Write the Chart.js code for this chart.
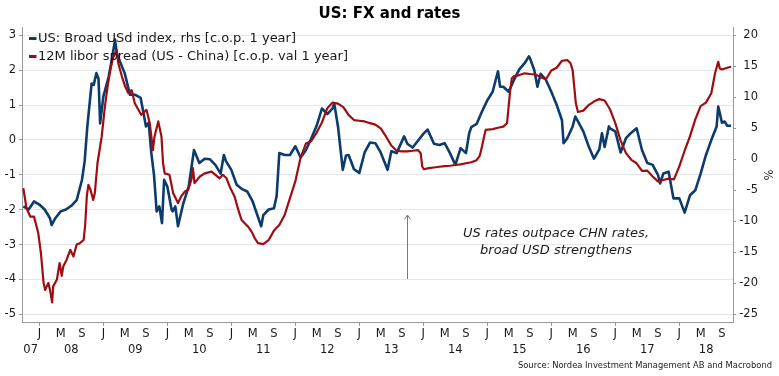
<!DOCTYPE html>
<html>
<head>
<meta charset="utf-8">
<script src="https://cdn.jsdelivr.net/npm/chart.js@4.4.0/dist/chart.umd.min.js"></script>
<style>
html,body{margin:0;padding:0;background:#ffffff;}
#wrap{width:779px;height:376px;position:relative;}
</style>
</head>
<body>
<div id="wrap"><canvas id="c" width="779" height="376"></canvas></div>
<script>
// ---------- texts ----------
const titleText = 'US: FX and rates';
const sourceText = 'Source: Nordea Investment Management AB and Macrobond';
const noteLines = ['US rates outpace CHN rates,', 'broad USD strengthens'];
const rightAxisTitle = '%';
const blueLabel = 'US: Broad USd index, rhs [c.o.p. 1 year]';
const redLabel = '12M libor spread (US - China) [c.o.p. val 1 year]';

// ---------- tick labels ----------
const monthLetters = ['J', 'M', 'S'];          // Jan, May, Sep
const monthOffsets = [0, 4, 8];
const yearLabels = ['07','08','09','10','11','12','13','14','15','16','17','18'];
const leftTicks = [-5, -4, -3, -2, -1, 0, 1, 2, 3];
const rightTicks = [-25, -20, -15, -10, -5, 0, 5, 10, 15, 20];

// ---------- data (x = months since Jan 2007) ----------
// Broad USD index, % y/y (right axis)
const blueMonths = [9,10,11,12,13,14,14.3,15,16,17,18,19,20,20.5,21,21.8,22.2,22.7,23.1,23.4,24,25,25.6,26.2,26.5,27,28,29,30,31,32,32.5,33,33.5,34,34.5,35,35.4,36,36.8,37,37.5,38,39,40,41,42,43,44,45,46,46.6,47,48,49,50,51,52,53,53.6,54,55,56,56.5,57,58,59,60,61,62,63,64,65,66,67,67.3,68,68.9,69.5,70,71,72,73,74,75,76,77.3,78,79,80.4,81,82,83,84,84.8,86,87,88,89,90,91,92,92.6,93,94,95,96,97,98,98.4,99,100,101,102,103,103.8,104,104.8,105.4,106,107,108,109,110,110.3,111,112,112.5,113,114,115,116,117,117.5,118,118.8,119,120,121,122,123,124,125,126,127,128,128.4,129,130,130.9,132,133,134,135,136,137,138,139,139.3,139.6,140,140.5,141,141.7];
const blueValues = [-7.6,-8.1,-6.8,-7.3,-8.1,-9.5,-10.6,-9.5,-8.4,-8.1,-7.5,-6.6,-3.3,-0.3,5.3,12.2,12.0,13.9,13.0,5.8,10.1,13.3,16.1,19.3,17.2,16.0,13.9,10.4,10.4,9.9,5.3,5.9,1.0,-2.5,-8.4,-7.6,-10.3,-3.3,-4.4,-8.1,-8.4,-7.6,-10.8,-7.1,-4.4,1.5,-0.6,0.1,0.0,-0.9,-2.3,0.7,-0.3,-1.7,-4.1,-4.8,-5.2,-6.8,-9.3,-10.8,-9.0,-8.1,-7.9,-5.9,1.0,0.7,0.7,2.1,0.3,1.5,3.4,5.4,8.2,7.3,8.2,9.0,5.3,-1.7,0.6,0.7,-1.6,-2.2,1.1,2.7,2.6,1.1,-1.7,1.3,1.0,3.7,2.5,1.9,3.0,4.1,4.8,2.5,2.3,2.6,1.0,-0.9,1.8,1.0,4.2,5.2,5.7,7.7,9.5,10.9,14.2,11.7,11.7,10.9,12.8,14.5,15.5,16.6,16.3,14.4,11.7,13.8,12.8,10.9,8.8,6.3,2.6,3.4,5.3,6.9,6.1,4.5,2.1,0.1,1.6,4.2,2.0,5.3,5.0,4.5,1.1,3.4,4.3,5.0,1.5,-0.6,-0.9,-2.5,-3.9,-2.3,-2.0,-6.3,-6.3,-8.6,-5.8,-5.0,-2.3,0.7,3.1,5.3,8.5,7.4,5.9,6.1,5.4,5.4];

// 12M libor spread US - China, change over 1 year (left axis)
const redMonths = [9,9.6,10.3,11,11.8,12.3,12.8,13.1,13.7,14,14.4,14.6,15.3,15.8,16.2,16.5,17.1,17.8,18.4,19,19.6,20.3,20.6,20.9,21.2,21.6,22.1,22.4,22.9,23.3,23.7,24.3,24.8,25.3,25.8,26.2,26.5,26.8,27.5,28.1,28.7,29.3,29.9,30.6,31.1,32.1,32.7,33,33.3,33.6,34.3,34.9,35.2,35.5,36.4,37.1,38,38.6,39.3,39.9,40.5,40.8,41.1,42.1,43,44.3,45.8,46.4,47.1,47.7,48.6,49.3,49.9,50.5,51.1,51.8,52.4,53,54,55,56,57,58,59,60,61,62,63,64,65,66,67,68,69,70,71,72,73,74,75,76,77,78,79,80,81,82,83,83.5,83.8,84.1,85,86,87,88,89,90,91,92,93,94,94.6,95,95.4,95.7,97,98,99,99.7,100,100.3,100.6,101,102,103,104,105,106,107,108,109,110,111,111.6,112,112.3,112.6,113,114,115,116,117,118,119,120,121,122,123,124,125,126,127,128,129,130,131,132,133,134,135,136,137,138,138.7,139.3,139.6,140,141,141.7];
const redValues = [-1.38,-1.96,-2.2,-2.2,-2.67,-3.25,-4.1,-4.3,-4.1,-4.3,-4.66,-4.2,-4.0,-3.53,-3.9,-3.62,-3.44,-3.15,-3.34,-3.0,-2.96,-2.87,-2.44,-1.62,-1.29,-1.43,-1.72,-1.53,-0.67,-0.29,0.1,0.96,1.53,2.0,2.34,2.48,2.58,2.2,1.81,1.53,1.34,1.43,1.05,0.86,0.72,0.86,0.48,0.1,-0.29,0.1,0.53,0.1,-0.67,-0.96,-1.0,-1.53,-1.81,-1.62,-1.48,-1.43,-1.15,-0.81,-1.24,-1.05,-0.96,-0.91,-1.1,-1.0,-1.1,-1.34,-1.62,-2.0,-2.29,-2.39,-2.48,-2.63,-2.82,-2.96,-2.99,-2.87,-2.6,-2.44,-2.15,-1.67,-1.19,-0.5,-0.1,-0.03,0.21,0.5,0.91,1.07,1.04,0.94,0.71,0.57,0.55,0.53,0.48,0.44,0.33,0.1,-0.16,-0.31,-0.33,-0.33,-0.31,-0.29,-0.38,-0.76,-0.84,-0.81,-0.79,-0.77,-0.75,-0.74,-0.72,-0.7,-0.67,-0.64,-0.58,-0.45,-0.19,0.1,0.29,0.31,0.35,0.38,0.48,0.96,1.43,1.77,1.83,1.86,1.91,1.89,1.88,1.8,1.74,1.99,2.07,2.27,2.29,2.2,2.0,1.53,1.05,0.8,0.84,1.0,1.1,1.17,1.13,0.88,0.48,-0.02,-0.38,-0.57,-0.67,-0.89,-0.88,-1.05,-1.19,-1.15,-1.11,-1.13,-0.76,-0.31,0.1,0.59,0.97,1.07,1.34,1.91,2.24,2.05,2.02,2.07,2.1];

// ---------- styling ----------
const FONT = "'DejaVu Sans', Verdana, sans-serif";
const BLUE = '#0c3b6d';
const RED = '#9f0d10';
const TEXT = '#1a1a1a';
const AXIS = '#9a9a9a';
const GRID = '#e3e7ec';
const X_MIN = 8.75, X_MAX = 142.07;
const L_MIN = -5.221, L_MAX = 3.238;
const R_MIN = -26.243, R_MAX = 21.339;

const toPts = (xs, ys) => xs.map((x, i) => ({x: x, y: ys[i]}));

function buildXTicks() {
  const t = [];
  yearLabels.forEach((yl, yi) => {
    const base = yi * 12;
    monthOffsets.forEach((mo, k) => {
      const v = base + mo;
      if (v >= X_MIN && v <= X_MAX) t.push({value: v, label: monthLetters[k]});
    });
    const lo = Math.max(base, X_MIN), hi = Math.min(base + 12, X_MAX);
    t.push({value: (lo + hi) / 2, label: ['', yl]});
  });
  t.sort((a, b) => a.value - b.value);
  return t;
}
const xTicks = buildXTicks();

const decorPlugin = {
  id: 'decor',
  afterDraw(chart) {
    const ctx = chart.ctx;
    ctx.save();
    // title
    ctx.fillStyle = '#000';
    ctx.font = 'bold 15px ' + FONT;
    ctx.textAlign = 'center';
    ctx.textBaseline = 'middle';
    ctx.fillText(titleText, 389.5, 14);

    // legend
    chart.data.datasets.forEach((ds, i) => {
      const y = 38.5 + i * 18;
      ctx.strokeStyle = ds.borderColor;
      ctx.lineWidth = 3;
      ctx.beginPath();
      ctx.moveTo(29, y);
      ctx.lineTo(36.5, y);
      ctx.stroke();
      ctx.fillStyle = TEXT;
      ctx.font = '13px ' + FONT;
      ctx.textAlign = 'left';
      ctx.textBaseline = 'middle';
      ctx.fillText(ds.label, 38, y);
    });

    // arrow
    ctx.strokeStyle = '#7a7a7a';
    ctx.lineWidth = 1;
    ctx.beginPath();
    ctx.moveTo(407.5, 279);
    ctx.lineTo(407.5, 215);
    ctx.moveTo(404.5, 219.5);
    ctx.lineTo(407.5, 215);
    ctx.lineTo(410.5, 219.5);
    ctx.stroke();

    // note
    ctx.fillStyle = TEXT;
    ctx.font = 'italic 13px ' + FONT;
    ctx.textAlign = 'center';
    ctx.textBaseline = 'middle';
    ctx.fillText(noteLines[0], 556, 234);
    ctx.fillText(noteLines[1], 556, 250.5);

    // source
    ctx.font = '8.4px ' + FONT;
    ctx.textAlign = 'right';
    ctx.fillText(sourceText, 772, 366);

    // right axis unit
    ctx.translate(767, 175);
    ctx.rotate(Math.PI / 2);
    ctx.font = '11.5px ' + FONT;
    ctx.textAlign = 'center';
    ctx.fillText(rightAxisTitle, 0, 0);
    ctx.restore();
  }
};

Chart.defaults.font.family = FONT;
Chart.defaults.color = TEXT;

new Chart(document.getElementById('c'), {
  type: 'line',
  data: {
    datasets: [
      {label: blueLabel, data: toPts(blueMonths, blueValues), yAxisID: 'yR', xAxisID: 'x',
       borderColor: BLUE, borderWidth: 2.6, pointRadius: 0, tension: 0, fill: false, order: 1,
       borderJoinStyle: 'round'},
      {label: redLabel, data: toPts(redMonths, redValues), yAxisID: 'yL', xAxisID: 'x',
       borderColor: RED, borderWidth: 2.2, pointRadius: 0, tension: 0, fill: false, order: 0,
       borderJoinStyle: 'round'}
    ]
  },
  options: {
    responsive: false,
    animation: false,
    devicePixelRatio: 1,
    layout: {padding: {top: 27, left: 0, right: 21, bottom: 0}},
    plugins: {legend: {display: false}, title: {display: false}, tooltip: {enabled: false}},
    scales: {
      x: {
        type: 'linear', position: 'bottom', min: X_MIN, max: X_MAX,
        afterBuildTicks: s => { s.ticks = xTicks.map(t => ({value: t.value})); },
        afterFit: s => { s.height = 54; },
        grid: {drawOnChartArea: false, tickLength: 4, lineWidth: 1,
               tickColor: c => (c.tick && Math.abs(c.tick.value % 12) < 1e-6) ? AXIS : 'rgba(0,0,0,0)'},
        border: {display: true, color: AXIS, width: 1},
        ticks: {autoSkip: false, maxRotation: 0, minRotation: 0, padding: 0, color: TEXT,
                font: {size: 11.5, lineHeight: 1.4},
                callback: (v, i) => xTicks[i] ? xTicks[i].label : ''}
      },
      yL: {
        type: 'linear', position: 'left', min: L_MIN, max: L_MAX,
        afterBuildTicks: s => { s.ticks = leftTicks.map(v => ({value: v})); },
        afterFit: s => { s.width = 22; },
        grid: {color: GRID, lineWidth: 1, tickLength: 3, tickColor: AXIS},
        border: {display: true, color: AXIS, width: 1},
        ticks: {padding: 3, color: TEXT, font: {size: 11.5}}
      },
      yR: {
        type: 'linear', position: 'right', min: R_MIN, max: R_MAX,
        afterBuildTicks: s => { s.ticks = rightTicks.map(v => ({value: v})); },
        afterFit: s => { s.width = 25; },
        grid: {drawOnChartArea: false, lineWidth: 1, tickLength: 3, tickColor: AXIS},
        border: {display: true, color: AXIS, width: 1},
        ticks: {padding: 4, color: TEXT, crossAlign: 'far', font: {size: 11.5}}
      }
    }
  },
  plugins: [decorPlugin]
});
</script>
</body>
</html>
